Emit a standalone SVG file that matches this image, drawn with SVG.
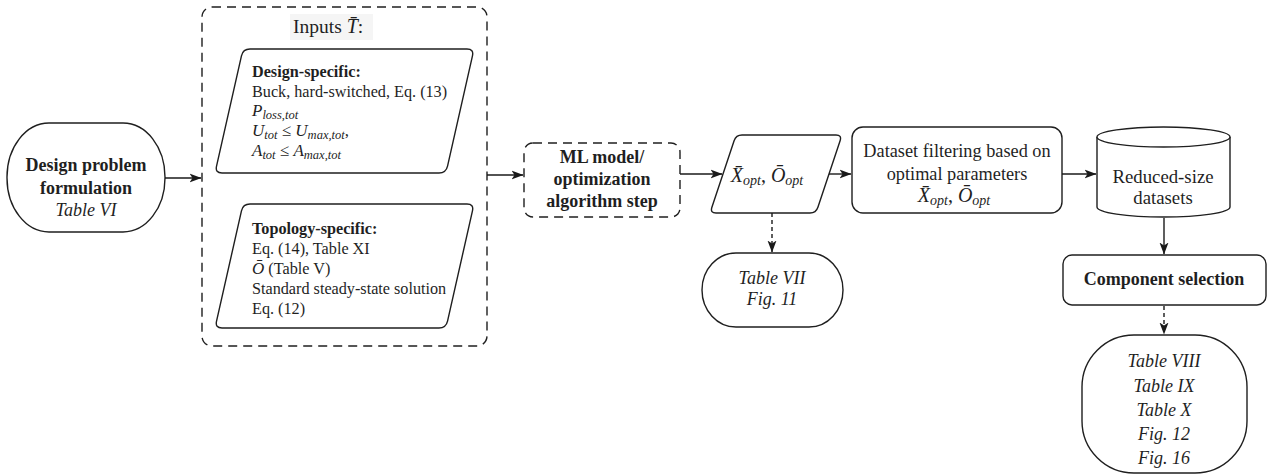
<svg xmlns="http://www.w3.org/2000/svg" width="1268" height="476" viewBox="0 0 1268 476">
  <defs>
    <marker id="arrow" viewBox="0 0 12 10" refX="11.5" refY="5" markerWidth="12" markerHeight="10" markerUnits="userSpaceOnUse" orient="auto">
      <path d="M0,0.5 L12,5 L0,9.5 L3,5 Z" fill="#1a1a1a"/>
    </marker>
  </defs>
  <style>
    .shape { fill: #ffffff; stroke: #1f1f1f; stroke-width: 1.4; }
    .dashed { fill: none; stroke: #1f1f1f; stroke-width: 1.4; stroke-dasharray: 9 6; }
    .link { fill: none; stroke: #1a1a1a; stroke-width: 1.4; marker-end: url(#arrow); }
    .dotted { stroke-dasharray: 4 3; }
    .t16 { font-size: 16.2px; }
    .t18 { font-size: 18px; }
    .b { font-weight: bold; }
    .i { font-style: italic; }
    .mid { text-anchor: middle; }
    .m { font-size: 17px; font-style: italic; }
    .sub { font-size: 12.5px; font-style: italic; }
    .mb { font-size: 20px; font-style: italic; }
    .subb { font-size: 14px; font-style: italic; }
  </style>

  <rect width="1268" height="476" fill="#ffffff"/>

  <g font-family="Liberation Serif, Times New Roman, serif" fill="#1f1f1f">

  <!-- Starting point: problem statement -->
  <g id="design-problem">
    <rect class="shape" x="7" y="123" width="158" height="109" rx="42" ry="54"/>
    <text class="t18 b mid" x="86" y="171">Design problem</text>
    <text class="t18 b mid" x="86" y="194">formulation</text>
    <text class="t18 i mid" x="86" y="216">Table VI</text>
  </g>

  <!-- Input bundle -->
  <g id="inputs">
    <rect class="dashed" x="202" y="7" width="285" height="339" rx="10" ry="10"/>
    <rect x="290" y="14" width="83" height="26" fill="#f5f5f5"/>
    <text font-size="19.5" x="293" y="33">Inputs <tspan font-style="italic" font-size="20">T̄</tspan>:</text>
  </g>

  <g id="design-specific">
    <path class="shape" d="M250,49 L467,49 Q474,49 472.46,55.83 L447.54,166.17 Q446,173 439,173 L222,173 Q215,173 216.54,166.17 L241.46,55.83 Q243,49 250,49 Z"/>
    <text class="t16 b" x="252" y="77">Design-specific:</text>
    <text class="t16" x="252" y="97">Buck, hard-switched, Eq. (13)</text>
    <text x="252" y="116"><tspan class="m">P</tspan><tspan class="sub" dy="3">loss,tot</tspan></text>
    <text x="252" y="136"><tspan class="m">U</tspan><tspan class="sub" dy="3">tot</tspan><tspan font-size="17" dy="-3"> ≤ </tspan><tspan class="m">U</tspan><tspan class="sub" dy="3">max,tot</tspan><tspan font-size="17" dy="-3">,</tspan></text>
    <text x="252" y="156"><tspan class="m">A</tspan><tspan class="sub" dy="3">tot</tspan><tspan font-size="17" dy="-3"> ≤ </tspan><tspan class="m">A</tspan><tspan class="sub" dy="3">max,tot</tspan></text>
  </g>

  <g id="topology-specific">
    <path class="shape" d="M250,204 L467,204 Q474,204 472.46,210.83 L447.54,321.17 Q446,328 439,328 L222,328 Q215,328 216.54,321.17 L241.46,210.83 Q243,204 250,204 Z"/>
    <text class="t16 b" x="252" y="234">Topology-specific:</text>
    <text class="t16" x="252" y="254">Eq. (14), Table XI</text>
    <text class="t16" x="252" y="274"><tspan font-style="italic" font-size="17">Ō</tspan> (Table V)</text>
    <text class="t16" x="252" y="294">Standard steady-state solution</text>
    <text class="t16" x="252" y="314">Eq. (12)</text>
  </g>

  <!-- Processing step -->
  <g id="ml-step">
    <rect class="dashed" x="524" y="143" width="156" height="74" rx="9" ry="9"/>
    <text class="t18 b mid" x="602" y="163">ML model/</text>
    <text class="t18 b mid" x="602" y="185">optimization</text>
    <text class="t18 b mid" x="602" y="207">algorithm step</text>
  </g>

  <g id="optimal-params">
    <path class="shape" d="M742,135 L836,135 Q842,135 840.1,140.7 L817.9,207.3 Q816,213 810,213 L716,213 Q710,213 711.9,207.3 L734.1,140.7 Q736,135 742,135 Z"/>
    <text class="mid" x="767" y="182"><tspan class="mb">X̄</tspan><tspan class="subb" dy="3">opt</tspan><tspan font-size="20" dy="-3">, </tspan><tspan class="mb">Ō</tspan><tspan class="subb" dy="3">opt</tspan></text>
  </g>

  <g id="results-opt">
    <rect class="shape" x="702" y="253" width="141" height="74" rx="34" ry="37"/>
    <text class="t18 i mid" x="772" y="284">Table VII</text>
    <text class="t18 i mid" x="772" y="305">Fig. 11</text>
  </g>

  <g id="dataset-filtering">
    <rect class="shape" x="852" y="127" width="210" height="86" rx="11" ry="11"/>
    <text font-size="18.3" class="mid" x="957" y="157">Dataset filtering based on</text>
    <text font-size="18.3" class="mid" x="957" y="180">optimal parameters</text>
    <text class="mid" x="954" y="202"><tspan class="mb">X̄</tspan><tspan class="subb" dy="3">opt</tspan><tspan font-size="20" dy="-3">, </tspan><tspan class="mb">Ō</tspan><tspan class="subb" dy="3">opt</tspan></text>
  </g>

  <g id="reduced-datasets">
    <path class="shape" d="M1097,137 A66.5,10 0 0 1 1230,137 L1230,207 A66.5,10 0 0 1 1097,207 Z"/>
    <path class="shape" fill="none" d="M1097,137 A66.5,10 0 0 0 1230,137"/>
    <text font-size="18.8" class="mid" x="1163" y="183">Reduced-size</text>
    <text font-size="18.8" class="mid" x="1163" y="204">datasets</text>
  </g>

  <g id="component-selection">
    <rect class="shape" x="1063" y="255" width="203" height="50" rx="9" ry="9"/>
    <text class="t18 b mid" x="1164" y="285">Component selection</text>
  </g>

  <g id="results-selection">
    <rect class="shape" x="1082" y="335" width="165" height="138" rx="52" ry="52"/>
    <text class="t18 i mid" x="1164" y="367">Table VIII</text>
    <text class="t18 i mid" x="1164" y="392">Table IX</text>
    <text class="t18 i mid" x="1164" y="416">Table X</text>
    <text class="t18 i mid" x="1164" y="440">Fig. 12</text>
    <text class="t18 i mid" x="1164" y="464">Fig. 16</text>
  </g>

  </g>

  <!-- Connectors -->
  <g id="connectors">
    <path class="link" d="M165,178 L201,178"/>
    <path class="link" d="M487,175 L523,175"/>
    <path class="link" d="M680,174 L722,174"/>
    <path class="link" d="M829,174 L851,174"/>
    <path class="link" d="M1062,174 L1096,174"/>
    <path class="link" d="M1164,218 L1164,254"/>
    <path class="link dotted" d="M772,213 L772,252"/>
    <path class="link dotted" d="M1164,306 L1164,334"/>
  </g>
</svg>
